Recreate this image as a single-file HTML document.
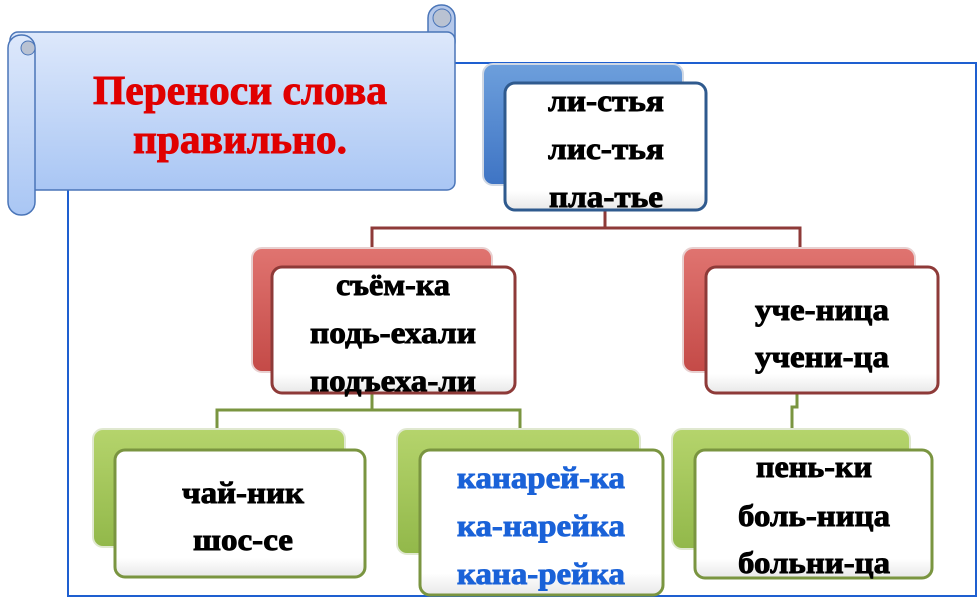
<!DOCTYPE html>
<html><head><meta charset="utf-8"><style>
html,body{margin:0;padding:0;background:#fff;width:980px;height:601px;overflow:hidden}
svg text{font-family:"Liberation Serif",serif;font-weight:bold;font-size:31px;text-anchor:middle;stroke-width:0.9}
</style></head><body>
<svg width="980" height="601" viewBox="0 0 980 601" xmlns="http://www.w3.org/2000/svg">
<defs>
<linearGradient id="sc" x1="0" y1="0" x2="0" y2="1"><stop offset="0" stop-color="#dde8fb"/><stop offset="1" stop-color="#a9c6f4"/></linearGradient>
<linearGradient id="bl" x1="0" y1="0" x2="0" y2="1"><stop offset="0" stop-color="#6d9fdc"/><stop offset="1" stop-color="#3e74c4"/></linearGradient>
<linearGradient id="rd" x1="0" y1="0" x2="0" y2="1"><stop offset="0" stop-color="#e07470"/><stop offset="1" stop-color="#c44a47"/></linearGradient>
<linearGradient id="gr" x1="0" y1="0" x2="0" y2="1"><stop offset="0" stop-color="#b5d46c"/><stop offset="1" stop-color="#92b84a"/></linearGradient>
<linearGradient id="wh" x1="0" y1="0" x2="0" y2="1"><stop offset="0" stop-color="#ffffff"/><stop offset="0.85" stop-color="#ffffff"/><stop offset="1" stop-color="#e8e8e8"/></linearGradient>
</defs>
<rect x="68" y="63" width="908" height="533" fill="none" stroke="#1e5fd0" stroke-width="2"/>
<rect x="428" y="5" width="27" height="50" rx="13" fill="#b5c8ea" stroke="#4a75b8" stroke-width="1.5"/>
<rect x="10" y="32" width="445" height="158" rx="8" fill="url(#sc)" stroke="#4a75b8" stroke-width="1.5"/>
<rect x="8" y="35" width="27" height="180" rx="13" fill="url(#sc)" stroke="#4a75b8" stroke-width="1.5"/>
<circle cx="28" cy="48" r="7" fill="#b9c2d2" stroke="#4a75b8" stroke-width="1"/>
<circle cx="442" cy="18" r="9" fill="#b9c2d2" stroke="#4a75b8" stroke-width="1"/>
<text x="240" y="104" fill="#e00000" stroke="#e00000" style="font-size:41px" textLength="294" lengthAdjust="spacingAndGlyphs">Переноси слова</text>
<text x="240" y="153" fill="#e00000" stroke="#e00000" style="font-size:41px" textLength="214" lengthAdjust="spacingAndGlyphs">правильно.</text>
<g fill="none" stroke-width="3">
<polyline points="605,210 605,228 372,228 372,250" stroke="#8e3a38"/>
<polyline points="605,228 800,228 800,250" stroke="#8e3a38"/>
<polyline points="372,393 372,410 217,410 217,430" stroke="#7a9540"/>
<polyline points="372,410 520,410 520,430" stroke="#7a9540"/>
<polyline points="797,393 797,407 792,407 792,430" stroke="#7a9540"/>
</g>
<rect x="483" y="64" width="200" height="121" rx="10" fill="url(#bl)" stroke="#d0d8e4" stroke-width="2"/>
<rect x="505" y="83" width="201" height="127" rx="10" fill="url(#wh)" stroke="#2f5a8e" stroke-width="3"/>
<g fill="#000" stroke="#000">
<text x="606" y="111" textLength="116" lengthAdjust="spacingAndGlyphs">ли-стья</text>
<text x="606" y="159" textLength="116" lengthAdjust="spacingAndGlyphs">лис-тья</text>
<text x="606" y="207" textLength="114" lengthAdjust="spacingAndGlyphs">пла-тье</text>
</g>
<rect x="252" y="248" width="240" height="124" rx="10" fill="url(#rd)" stroke="#e8d0d0" stroke-width="2"/>
<rect x="272" y="267" width="243" height="126" rx="10" fill="url(#wh)" stroke="#8e3a38" stroke-width="3"/>
<g fill="#000" stroke="#000">
<text x="393" y="295" textLength="114" lengthAdjust="spacingAndGlyphs">съём-ка</text>
<text x="393" y="343" textLength="166" lengthAdjust="spacingAndGlyphs">подь-ехали</text>
<text x="393" y="391" textLength="166" lengthAdjust="spacingAndGlyphs">подъеха-ли</text>
</g>
<rect x="683" y="248" width="232" height="124" rx="10" fill="url(#rd)" stroke="#e8d0d0" stroke-width="2"/>
<rect x="706" y="267" width="232" height="126" rx="10" fill="url(#wh)" stroke="#8e3a38" stroke-width="3"/>
<g fill="#000" stroke="#000">
<text x="822" y="320" textLength="134" lengthAdjust="spacingAndGlyphs">уче-ница</text>
<text x="822" y="367" textLength="134" lengthAdjust="spacingAndGlyphs">учени-ца</text>
</g>
<rect x="93" y="429" width="252" height="118" rx="10" fill="url(#gr)" stroke="#e0e8d0" stroke-width="2"/>
<rect x="115" y="450" width="250" height="127" rx="10" fill="url(#wh)" stroke="#7a9540" stroke-width="3"/>
<g fill="#000" stroke="#000">
<text x="243" y="503" textLength="122" lengthAdjust="spacingAndGlyphs">чай-ник</text>
<text x="243" y="550" textLength="100" lengthAdjust="spacingAndGlyphs">шос-се</text>
</g>
<rect x="397" y="429" width="243" height="125" rx="10" fill="url(#gr)" stroke="#e0e8d0" stroke-width="2"/>
<rect x="420" y="450" width="243" height="145" rx="10" fill="url(#wh)" stroke="#7a9540" stroke-width="3"/>
<g fill="#1a62d8" stroke="#1a62d8">
<text x="541" y="488" textLength="168" lengthAdjust="spacingAndGlyphs">канарей-ка</text>
<text x="541" y="536" textLength="168" lengthAdjust="spacingAndGlyphs">ка-нарейка</text>
<text x="541" y="584" textLength="168" lengthAdjust="spacingAndGlyphs">кана-рейка</text>
</g>
<rect x="672" y="429" width="238" height="120" rx="10" fill="url(#gr)" stroke="#e0e8d0" stroke-width="2"/>
<rect x="695" y="450" width="237" height="128" rx="10" fill="url(#wh)" stroke="#7a9540" stroke-width="3"/>
<g fill="#000" stroke="#000">
<text x="814" y="477" textLength="116" lengthAdjust="spacingAndGlyphs">пень-ки</text>
<text x="814" y="526" textLength="152" lengthAdjust="spacingAndGlyphs">боль-ница</text>
<text x="814" y="573" textLength="152" lengthAdjust="spacingAndGlyphs">больни-ца</text>
</g>
</svg>
</body></html>
